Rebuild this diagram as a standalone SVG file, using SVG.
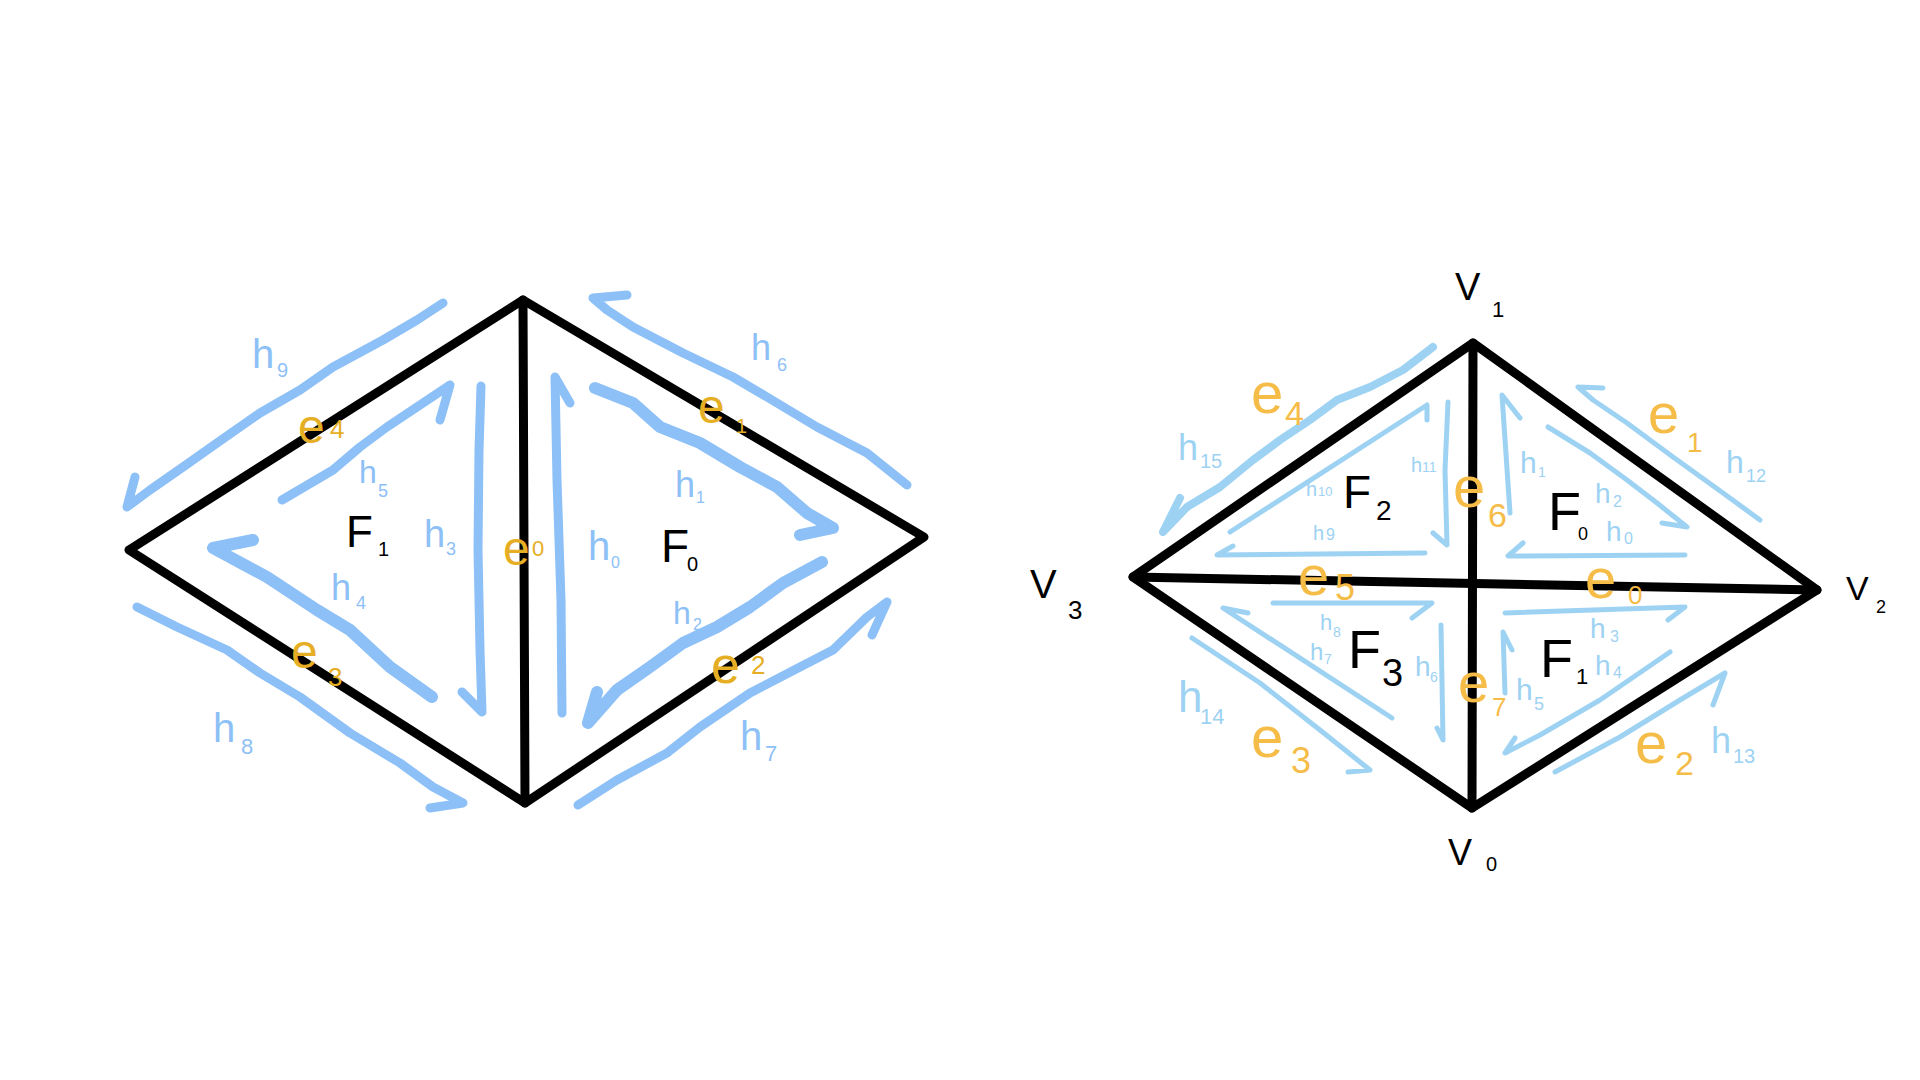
<svg xmlns="http://www.w3.org/2000/svg" width="1920" height="1080" viewBox="0 0 1920 1080">
<style>
.edge{fill:none;stroke:#000;stroke-width:9;stroke-linejoin:round;stroke-linecap:round}
.bl{fill:none;stroke:#8DC0F6;stroke-width:9;stroke-linejoin:round;stroke-linecap:round}
.blt{fill:none;stroke:#8DC0F6;stroke-width:12;stroke-linejoin:round;stroke-linecap:round}
.br{fill:none;stroke:#9DD2F3;stroke-width:5;stroke-linejoin:round;stroke-linecap:round}
.brt{fill:none;stroke:#9DD2F3;stroke-width:8;stroke-linejoin:round;stroke-linecap:round}
text{font-family:"Liberation Sans",Arial,sans-serif}
.hl{fill:#8DC0F6}
.hr{fill:#9DD2F3}
.ol{fill:#E5AE24}
.or{fill:#F5BC47}
.k{fill:#000}
</style>
<rect width="1920" height="1080" fill="#fff"/>

<g id="edges">
<polygon class="edge" points="523,300 924,537 525,803 129,550"/>
<line class="edge" x1="523" y1="300" x2="525" y2="803"/>
<polygon class="edge" points="1473,343 1817,590 1472,808 1133,577" stroke-width="10"/>
<line class="edge" x1="1133" y1="577" x2="1817" y2="590"/>
<line class="edge" x1="1473" y1="343" x2="1472" y2="808"/>
</g>

<g id="halfedges-left">
<path id="L-h9" class="bl" d="M443,303 L417,320 L383,340 L333,367 L300,390 L260,413 L217,443 L183,467 L150,490 L127,507 L135,477"/>
<path id="L-h5" class="bl" d="M282,500 L333,470 L360,447 L387,427 L417,407 L450,385 L440,420"/>
<path id="L-h3" class="bl" d="M481,386 L479,450 L478,550 L480,650 L482,712 L462,692"/>
<path id="L-h4" class="blt" d="M432,697 L390,667 L350,630 L317,610 L267,577 L213,548 L253,540"/>
<path id="L-h8" class="bl" d="M137,607 L177,627 L227,650 L260,673 L300,697 L350,733 L400,763 L433,787 L463,803 L430,808"/>
<path id="L-h0" class="bl" d="M562,713 L561,600 L557,480 L555,377 L570,403"/>
<path id="L-h6" class="bl" d="M907,485 L867,453 L817,427 L767,397 L733,377 L683,353 L633,327 L607,310 L593,298 L627,295"/>
<path id="L-h1" class="blt" d="M595,388 L633,403 L660,427 L700,443 L740,467 L777,487 L807,513 L833,528 L800,535"/>
<path id="L-h2" class="blt" d="M822,562 L783,583 L750,607 L717,627 L683,643 L650,667 L617,690 L588,723 L597,692"/>
<path id="L-h7" class="bl" d="M578,805 L617,780 L667,753 L700,727 L750,693 L800,667 L833,650 L867,617 L887,602 L872,635"/>
</g>

<g id="halfedges-right">
<path id="R-h15" class="brt" d="M1433,347 L1403,370 L1370,387 L1337,400 L1310,420 L1280,440 L1253,460 L1220,487 L1187,507 L1163,532 L1180,498"/>
<path id="R-h10" class="br" d="M1230,532 L1427,405 L1427,420"/>
<path id="R-h11" class="br" d="M1448,402 L1445,470 L1447,545 L1433,533"/>
<path id="R-h9" class="br" d="M1425,553 L1217,555 L1233,546"/>
<path id="R-h12" class="br" stroke-width="6" d="M1760,520 L1723,493 L1673,457 L1627,423 L1593,400 L1578,387 L1603,388"/>
<path id="R-h1" class="br" d="M1510,513 L1502,395 L1520,418"/>
<path id="R-h2" class="br" d="M1548,427 L1590,453 L1627,480 L1657,503 L1687,527 L1662,523"/>
<path id="R-h0" class="br" d="M1685,555 L1508,556 L1523,543"/>
<path id="R-h8" class="br" d="M1273,603 L1432,603 L1412,618"/>
<path id="R-h7" class="br" d="M1392,718 L1223,608 L1248,613"/>
<path id="R-h6" class="br" stroke-width="7" d="M1441,625 L1443,740 L1437,728"/>
<path id="R-h14" class="br" d="M1192,638 L1260,683 L1320,730 L1370,770 L1348,772"/>
<path id="R-h3" class="br" d="M1505,613 L1685,607 L1668,620"/>
<path id="R-h5" class="br" d="M1505,693 L1503,632 L1512,650"/>
<path id="R-h4" class="br" d="M1670,652 L1600,700 L1540,735 L1505,753 L1515,738"/>
<path id="R-h13" class="br" d="M1555,772 L1620,737 L1680,700 L1725,673 L1713,705"/>
</g>

<g id="labels-left">
<text class="hl" x="252" y="368" font-size="40">h<tspan x="277" y="377" font-size="20">9</tspan></text>
<text class="hl" x="359" y="483" font-size="32">h<tspan x="378" y="497" font-size="18">5</tspan></text>
<text class="k" x="346" y="547" font-size="44">F<tspan x="378" y="556" font-size="20">1</tspan></text>
<text class="hl" x="424" y="547" font-size="38">h<tspan x="446" y="555" font-size="18">3</tspan></text>
<text class="ol" x="503" y="565" font-size="48">e<tspan x="532" y="556" font-size="22">0</tspan></text>
<text class="hl" x="588" y="560" font-size="40">h<tspan x="611" y="568" font-size="16">0</tspan></text>
<text class="k" x="661" y="562" font-size="46">F<tspan x="687" y="571" font-size="20">0</tspan></text>
<text class="ol" x="698" y="423" font-size="48">e<tspan x="736" y="433" font-size="20">1</tspan></text>
<text class="hl" x="751" y="360" font-size="36">h<tspan x="777" y="371" font-size="18">6</tspan></text>
<text class="hl" x="675" y="497" font-size="36">h<tspan x="696" y="503" font-size="16">1</tspan></text>
<text class="hl" x="673" y="624" font-size="32">h<tspan x="693" y="630" font-size="16">2</tspan></text>
<text class="ol" x="711" y="683" font-size="52">e<tspan x="751" y="674" font-size="26">2</tspan></text>
<text class="hl" x="740" y="750" font-size="40">h<tspan x="765" y="761" font-size="22">7</tspan></text>
<text class="hl" x="331" y="600" font-size="36">h<tspan x="356" y="609" font-size="18">4</tspan></text>
<text class="ol" x="291" y="668" font-size="48">e<tspan x="328" y="686" font-size="26">3</tspan></text>
<text class="ol" x="298" y="443" font-size="48">e<tspan x="330" y="438" font-size="26">4</tspan></text>
<text class="hl" x="213" y="742" font-size="40">h<tspan x="241" y="754" font-size="22">8</tspan></text>
</g>

<g id="labels-right">
<text class="k" x="1455" y="300" font-size="38">V<tspan x="1492" y="317" font-size="22">1</tspan></text>
<text class="k" x="1030" y="598" font-size="40">V<tspan x="1068" y="619" font-size="26">3</tspan></text>
<text class="k" x="1846" y="600" font-size="34">V<tspan x="1876" y="613" font-size="18">2</tspan></text>
<text class="k" x="1448" y="865" font-size="36">V<tspan x="1486" y="871" font-size="20">0</tspan></text>
<text class="or" x="1251" y="413" font-size="58">e<tspan x="1285" y="425" font-size="34">4</tspan></text>
<text class="hr" x="1178" y="460" font-size="36">h<tspan x="1200" y="468" font-size="20">15</tspan></text>
<text class="hr" x="1306" y="496" font-size="20">h<tspan x="1318" y="496" font-size="13">10</tspan></text>
<text class="k" x="1343" y="508" font-size="46">F<tspan x="1376" y="520" font-size="28">2</tspan></text>
<text class="hr" x="1411" y="472" font-size="20">h<tspan x="1422" y="472" font-size="14">11</tspan></text>
<text class="hr" x="1313" y="540" font-size="20">h<tspan x="1326" y="540" font-size="16">9</tspan></text>
<text class="or" x="1453" y="507" font-size="58">e<tspan x="1488" y="527" font-size="34">6</tspan></text>
<text class="or" x="1298" y="595" font-size="56">e<tspan x="1335" y="600" font-size="36">5</tspan></text>
<text class="or" x="1648" y="433" font-size="56">e<tspan x="1687" y="452" font-size="28">1</tspan></text>
<text class="hr" x="1726" y="473" font-size="32">h<tspan x="1746" y="482" font-size="18">12</tspan></text>
<text class="hr" x="1520" y="473" font-size="30">h<tspan x="1538" y="477" font-size="14">1</tspan></text>
<text class="k" x="1548" y="530" font-size="54">F<tspan x="1578" y="540" font-size="18">0</tspan></text>
<text class="hr" x="1595" y="503" font-size="28">h<tspan x="1613" y="507" font-size="16">2</tspan></text>
<text class="hr" x="1606" y="541" font-size="28">h<tspan x="1624" y="544" font-size="16">0</tspan></text>
<text class="or" x="1585" y="598" font-size="56">e<tspan x="1628" y="604" font-size="26">0</tspan></text>
<text class="hr" x="1590" y="638" font-size="28">h<tspan x="1610" y="642" font-size="16">3</tspan></text>
<text class="k" x="1540" y="677" font-size="54">F<tspan x="1576" y="684" font-size="22">1</tspan></text>
<text class="hr" x="1595" y="675" font-size="28">h<tspan x="1613" y="678" font-size="16">4</tspan></text>
<text class="hr" x="1516" y="700" font-size="30">h<tspan x="1534" y="710" font-size="18">5</tspan></text>
<text class="or" x="1458" y="702" font-size="56">e<tspan x="1492" y="716" font-size="26">7</tspan></text>
<text class="or" x="1635" y="763" font-size="58">e<tspan x="1675" y="775" font-size="34">2</tspan></text>
<text class="hr" x="1711" y="753" font-size="36">h<tspan x="1733" y="763" font-size="20">13</tspan></text>
<text class="hr" x="1320" y="630" font-size="22">h<tspan x="1333" y="637" font-size="14">8</tspan></text>
<text class="hr" x="1310" y="660" font-size="24">h<tspan x="1324" y="664" font-size="14">7</tspan></text>
<text class="k" x="1348" y="668" font-size="54">F<tspan x="1382" y="686" font-size="38">3</tspan></text>
<text class="hr" x="1415" y="676" font-size="28">h<tspan x="1430" y="682" font-size="14">6</tspan></text>
<text class="hr" x="1178" y="712" font-size="44">h<tspan x="1200" y="724" font-size="22">14</tspan></text>
<text class="or" x="1251" y="757" font-size="58">e<tspan x="1291" y="773" font-size="36">3</tspan></text>
</g>
</svg>
